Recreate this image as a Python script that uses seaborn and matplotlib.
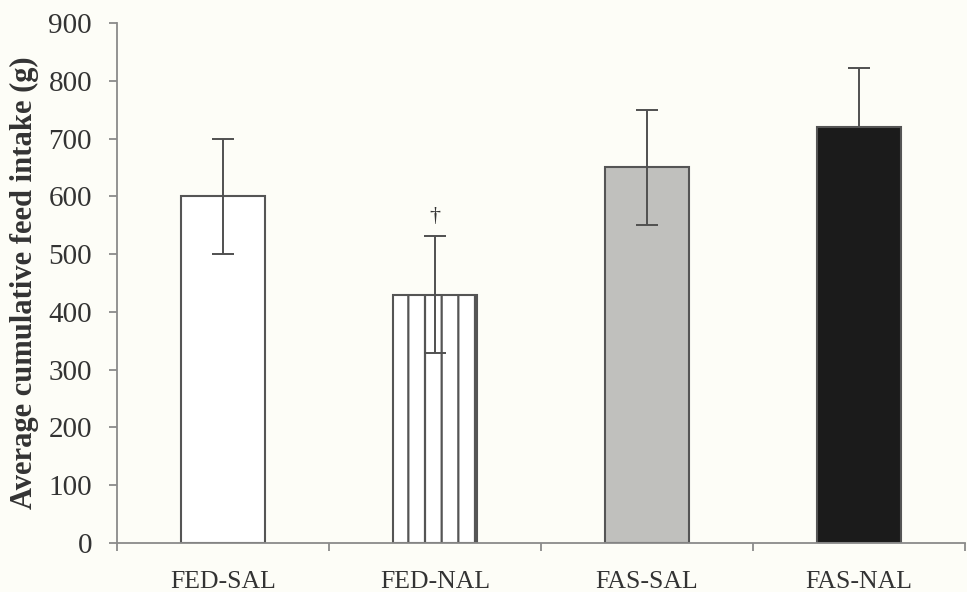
import numpy as np
import pandas as pd
import matplotlib
matplotlib.use("Agg")
import matplotlib.pyplot as plt
import seaborn as sns

# data
groups = ["FED-SAL", "FED-NAL", "FAS-SAL", "FAS-NAL"]
intake = [600, 430, 650, 720]
sem = [100, 101, 100, 103]
bar_colors = ["#FFFFFF", "#FFFFFF", "#C0C1BC", "#1B1B1B"]
hatches = ["", "|", "", ""]
y_ticks = [0, 100, 200, 300, 400, 500, 600, 700, 800, 900]

bg = "#FDFDF7"
edge = "#555555"
spine_col = "#8A8A8A"

sns.set_theme(style="white")
plt.rcParams["font.family"] = ["Liberation Serif", "DejaVu Serif"]
plt.rcParams["hatch.color"] = edge
plt.rcParams["hatch.linewidth"] = 1.6

df = pd.DataFrame({"group": groups, "intake": intake})

fig = plt.figure(figsize=(9.67, 5.92), dpi=100, facecolor=bg)
ax = fig.add_axes([0.121, 0.083, 0.877, 0.878])
ax.set_facecolor(bg)

sns.barplot(data=df, x="group", y="intake", hue="group", palette=bar_colors,
            width=0.4, edgecolor=edge, linewidth=1.5, errorbar=None,
            legend=False, ax=ax)

for patch, h in zip(ax.patches, hatches):
    patch.set_hatch(h)

x = np.arange(len(groups))
# whiskers over the light bars, behind the black one
ax.errorbar(x[:3], intake[:3], yerr=sem[:3], fmt="none", ecolor="#505050",
            elinewidth=1.4, capsize=8, capthick=1.4, zorder=5)
ax.errorbar(x[3:], intake[3:], yerr=sem[3:], fmt="none", ecolor="#505050",
            elinewidth=1.4, capsize=8, capthick=1.4, zorder=0.5)

# significance mark over FED-NAL
ax.text(1, intake[1] + sem[1] + 18, "\u2020", ha="center", va="bottom",
        fontsize=16, color="#333333")

ax.set_xlim(-0.5, 3.5)
ax.set_ylim(0, 900)
ax.set_yticks(y_ticks)
ax.set_xlabel("")
ax.set_ylabel("Average cumulative feed intake (g)", fontsize=22,
              fontweight="bold", color="#333333", labelpad=7)

for s in ["top", "right"]:
    ax.spines[s].set_visible(False)
for s in ["left", "bottom"]:
    ax.spines[s].set_color(spine_col)
    ax.spines[s].set_linewidth(1.3)

ax.tick_params(axis="y", direction="out", length=6, width=1.3,
               color=spine_col, labelsize=21, labelcolor="#333333", pad=12,
               left=True)
ax.set_xticks(x)
ax.set_xticklabels(groups)
ax.tick_params(axis="x", which="major", length=0, labelsize=18.5,
               labelcolor="#333333", pad=20)
ax.set_xticks(np.arange(-0.5, 4.0, 1.0), minor=True)
ax.tick_params(axis="x", which="minor", direction="out", length=6,
               width=1.3, color=spine_col, bottom=True)

fig.savefig("out.png", dpi=100, facecolor=bg)
